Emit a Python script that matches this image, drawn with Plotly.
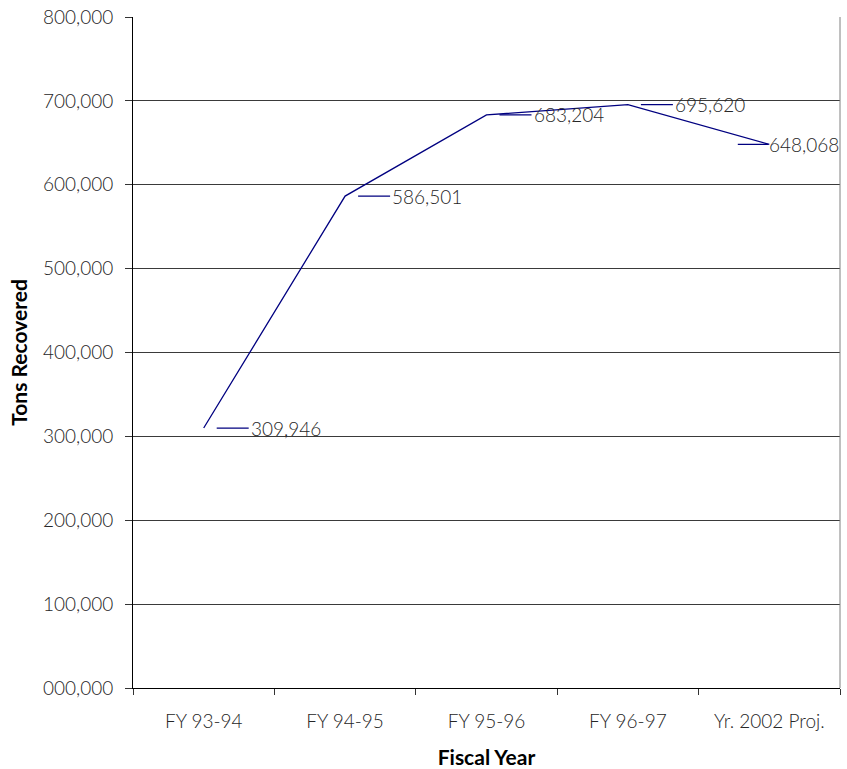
import plotly.graph_objects as go

categories = ["FY 93-94", "FY 94-95", "FY 95-96", "FY 96-97", "Yr. 2002 Proj."]
tons = [309946, 586501, 683204, 695620, 648068]
y_tickvals = [0, 100000, 200000, 300000, 400000, 500000, 600000, 700000, 800000]
y_ticktext = ["000,000", "100,000", "200,000", "300,000", "400,000",
              "500,000", "600,000", "700,000", "800,000"]

FONT = "Lato"
TXT = "#262626"
NAVY = "#000080"
TICKFONT = dict(family=FONT, size=19, color=TXT, weight=300)
TITLEFONT = dict(family=FONT, size=21, color="black", weight=800)

fig = go.Figure()
fig.add_trace(go.Scatter(
    x=categories, y=tons, mode="lines",
    line=dict(color=NAVY, width=1.3),
    hoverinfo="x+y", showlegend=False,
))

annotations = []
for i, (c, v) in enumerate(zip(categories, tons)):
    label = f"{v:,}"
    if i < len(categories) - 1:
        annotations.append(dict(
            x=c, y=v, xref="x", yref="y", text=label,
            showarrow=True, arrowhead=0, arrowwidth=1.2, arrowcolor=NAVY,
            ax=45, ay=0, standoff=13, xanchor="left", yanchor="middle",
            font=TICKFONT,
        ))
    else:
        annotations.append(dict(
            x=c, y=v, xref="x", yref="y", text=label,
            showarrow=False, xanchor="left", yanchor="middle", xshift=-2,
            font=TICKFONT,
        ))
        annotations.append(dict(
            x=c, y=v, xref="x", yref="y", text="",
            showarrow=True, arrowhead=0, arrowwidth=1.2, arrowcolor=NAVY,
            ax=-33, ay=0, standoff=1,
        ))

fig.update_layout(
    width=847, height=769,
    margin=dict(l=133, r=7, t=17, b=81),
    paper_bgcolor="white", plot_bgcolor="white",
    font=TICKFONT,
    annotations=annotations,
    xaxis=dict(
        type="category", tickson="boundaries", automargin=False,
        showline=True, linecolor="black", linewidth=1,
        ticks="outside", ticklen=6, tickcolor="#333333",
        showgrid=False, ticklabelstandoff=16, tickfont=TICKFONT,
        title=dict(text="<b>Fiscal Year</b>", font=TITLEFONT, standoff=20),
        range=[-0.5, 4.5],
    ),
    yaxis=dict(
        range=[0, 800000], tickvals=y_tickvals, ticktext=y_ticktext,
        automargin=False,
        showline=True, linecolor="black", linewidth=1,
        ticks="outside", ticklen=7, tickcolor="#333333",
        showgrid=True, gridcolor="#3a3a3a", gridwidth=1,
        zeroline=False, ticklabelstandoff=8, tickfont=TICKFONT,
        title=dict(text="<b>Tons Recovered</b>", font=TITLEFONT, standoff=9),
    ),
    shapes=[dict(type="line", xref="paper", yref="paper", x0=1, x1=1, y0=0, y1=1,
                 line=dict(color="#808080", width=1))],
)

fig.write_html(
    "out.html",
    config={"displayModeBar": False},
    post_script="document.body.style.margin='0';document.body.style.padding='0';",
)
